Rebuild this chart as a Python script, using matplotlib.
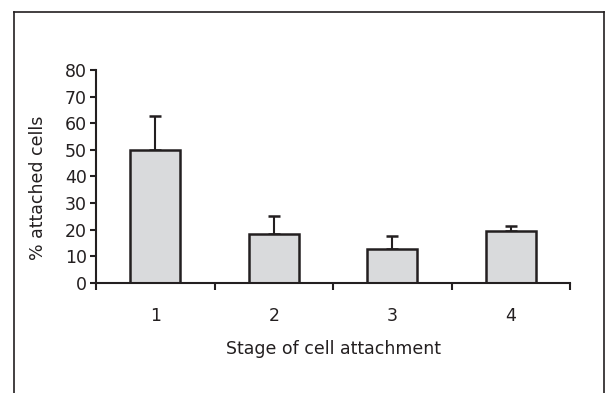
import matplotlib.pyplot as plt
from matplotlib.lines import Line2D

plt.rcParams['font.family'] = ['DejaVu Sans']

stages = ["1", "2", "3", "4"]
attached = [50, 18.5, 12.8, 19.5]
err_up = [12.8, 6.7, 4.9, 2.0]

fig = plt.figure(figsize=(6.05, 3.93), dpi=100)
ax = fig.add_axes([96/605, 110/393, 474/605, 213/393])

pos = [0.5, 1.5, 2.5, 3.5]
ax.bar(pos, attached, width=0.42, color="#d9dadc", edgecolor="#231f20", linewidth=1.8, zorder=2)
ax.errorbar(pos, attached, yerr=[[0]*4, err_up], fmt="none", ecolor="#231f20",
            elinewidth=1.5, capsize=4, capthick=1.8, zorder=1)

ax.set_xlim(0, 4)
ax.set_ylim(0, 80)
ax.set_yticks(range(0, 81, 10))
ax.set_xticks(pos)
ax.set_xticklabels(stages)
ax.set_xticks([0, 1, 2, 3, 4], minor=True)
ax.tick_params(axis="x", which="major", length=0, pad=17, labelsize=12.5, colors="#231f20")
ax.tick_params(axis="x", which="minor", length=5, width=1.5, direction="out", color="#231f20")
ax.tick_params(axis="y", length=4, width=1.5, pad=2.5, labelsize=12.5, colors="#231f20")

for s in ["top", "right"]:
    ax.spines[s].set_visible(False)
for s in ["left", "bottom"]:
    ax.spines[s].set_linewidth(1.5)
    ax.spines[s].set_color("#231f20")

ax.set_xlabel("Stage of cell attachment", fontsize=12.5, labelpad=11, color="#231f20")
ax.set_ylabel("% attached cells", fontsize=12.5, color="#231f20", va="center")
ax.yaxis.set_label_coords(-0.123, 0.446)

# outer frame (bottom edge is cut off in the original)
fc = "#231f20"
fig.add_artist(Line2D([14/605, 14/605], [0, 1 - 12/393], transform=fig.transFigure, color=fc, lw=1.2))
fig.add_artist(Line2D([14/605, 603.5/605], [1 - 12/393, 1 - 12/393], transform=fig.transFigure, color=fc, lw=1.2))
fig.add_artist(Line2D([603.5/605, 603.5/605], [0, 1 - 12/393], transform=fig.transFigure, color=fc, lw=1.2))

fig.savefig("out.png", dpi=100)
